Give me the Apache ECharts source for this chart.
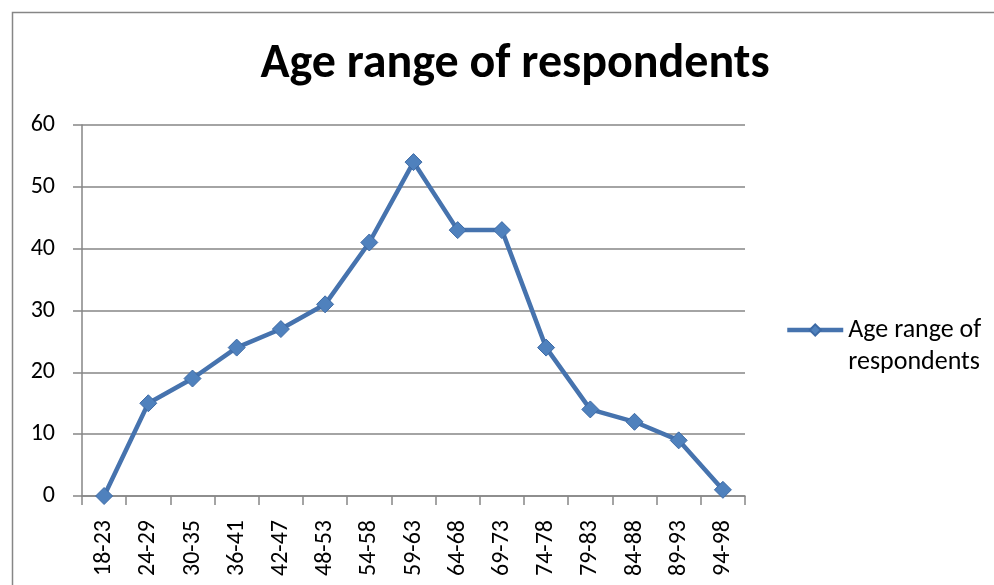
<!DOCTYPE html>
<html>
<head>
<meta charset="utf-8">
<script src="https://cdn.jsdelivr.net/npm/echarts@6/dist/echarts.min.js"></script>
<style>
  html, body { margin: 0; padding: 0; background: #fff; }
  #chart { width: 994px; height: 585px; }
</style>
</head>
<body>
<div id="chart"></div>
<script>
// age ranges on the x axis
var categories = ['18-23','24-29','30-35','36-41','42-47','48-53','54-58','59-63','64-68','69-73','74-78','79-83','84-88','89-93','94-98'];
// respondents per range
var counts = [0, 15, 19, 24, 27, 31, 41, 54, 43, 43, 24, 14, 12, 9, 1];
var seriesName = 'Age range of respondents';

var myChart = echarts.init(document.getElementById('chart'));
var fontFam = "'Carlito', 'Open Sans', 'Liberation Sans', sans-serif";

var option = {
  animation: false,
  textStyle: { fontFamily: fontFam },
  title: {
    text: 'Age range of respondents',
    left: 510, top: 36, textAlign: 'center',
    textStyle: { fontSize: 48, fontWeight: 'bold', color: '#000', fontFamily: fontFam }
  },
  graphic: [{
    type: 'rect',
    shape: { x: 12.5, y: 12.5, width: 1000, height: 600 },
    style: { fill: 'none', stroke: '#868686', lineWidth: 1.5 },
    silent: true
  }],
  legend: {
    left: 785, top: 282, padding: 0,
    itemWidth: 56, itemHeight: 14,
    // blank first line keeps the icon level with the first text line
    formatter: function () { return ' \nAge range of\nrespondents'; },
    lineStyle: { width: 4.5 },
    textStyle: { fontSize: 26, color: '#000', lineHeight: 32, fontFamily: fontFam },
    itemGap: 4
  },
  grid: { left: 82, right: 249, top: 125, bottom: 89, containLabel: false },
  xAxis: {
    type: 'category',
    data: categories,
    boundaryGap: true,
    axisLine: { lineStyle: { color: '#868686', width: 1.5 } },
    axisTick: { show: true, length: 9, lineStyle: { color: '#868686', width: 1.5 } },
    axisLabel: { rotate: 90, fontSize: 24, color: '#000', margin: 24, interval: 0 }
  },
  yAxis: {
    type: 'value',
    min: 0, max: 60, interval: 10,
    axisLine: { show: true, lineStyle: { color: '#868686', width: 1.5 } },
    axisTick: { show: true, length: 9, lineStyle: { color: '#868686', width: 1.5 } },
    splitLine: { lineStyle: { color: '#868686', width: 1.5 } },
    axisLabel: { fontSize: 24, color: '#000', margin: 27 }
  },
  series: [{
    name: seriesName,
    type: 'line',
    data: counts,
    symbol: 'diamond',
    symbolSize: 17,
    lineStyle: { color: '#4673AE', width: 4.5 },
    itemStyle: { color: '#4F81BD', borderColor: '#3D6AA5', borderWidth: 1 }
  }]
};
myChart.setOption(option);
</script>
</body>
</html>
